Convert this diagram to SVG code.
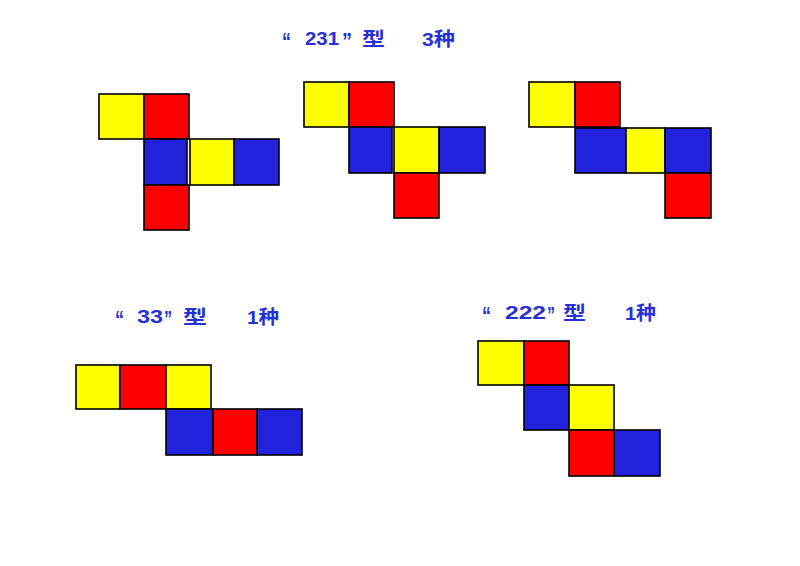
<svg xmlns="http://www.w3.org/2000/svg" width="800" height="566" viewBox="0 0 800 566">
<style>
.y{fill:#ffff00;stroke:#000;stroke-width:1.6}
.r{fill:#ff0000;stroke:#000;stroke-width:1.6}
.b{fill:#2222dc;stroke:#000;stroke-width:1.6}
.t{font-family:"Liberation Sans","Noto Sans CJK SC",sans-serif;font-weight:bold;font-size:19px;fill:#2530d8}
.q{font-family:"Liberation Sans",sans-serif;font-weight:bold;font-size:24px;fill:#2530d8}
.c{font-family:"Noto Sans CJK SC",sans-serif;font-weight:bold;font-size:19px;fill:#2530d8}
</style>
<rect width="800" height="566" fill="#fff"/>
<g id="title-231">
<text class="q" x="282" y="50" textLength="9" lengthAdjust="spacingAndGlyphs">“</text>
<text class="t" x="305" y="45" textLength="34" lengthAdjust="spacingAndGlyphs">231</text>
<text class="q" x="342" y="50" textLength="10" lengthAdjust="spacingAndGlyphs">”</text>
<text class="c" x="362" y="46" textLength="23" lengthAdjust="spacingAndGlyphs">型</text>
<text class="c" x="422" y="46" textLength="33" lengthAdjust="spacingAndGlyphs"><tspan font-family="Liberation Sans">3</tspan>种</text>
</g>
<g id="net-231-a">
<rect class="y" x="99" y="94" width="45" height="45"/>
<rect class="r" x="144" y="94" width="45" height="45"/>
<rect class="b" x="144" y="139" width="43" height="46"/>
<rect class="y" x="190" y="139" width="44" height="46"/>
<rect class="b" x="234" y="139" width="45" height="46"/>
<rect class="r" x="144" y="185" width="45" height="45"/>
</g>
<g id="net-231-b">
<rect class="y" x="304" y="82" width="45" height="45"/>
<rect class="r" x="349" y="82" width="45" height="45"/>
<rect class="b" x="349" y="127" width="43" height="46"/>
<rect class="y" x="394" y="127" width="45" height="46"/>
<rect class="b" x="439" y="127" width="46" height="46"/>
<rect class="r" x="394" y="173" width="45" height="45"/>
</g>
<g id="net-231-c">
<rect class="y" x="529" y="82" width="46" height="45"/>
<rect class="r" x="575" y="82" width="45" height="45"/>
<rect class="b" x="575" y="128" width="51" height="45"/>
<rect class="y" x="626" y="128" width="39" height="45"/>
<rect class="b" x="665" y="128" width="46" height="45"/>
<rect class="r" x="665" y="173" width="46" height="45"/>
</g>
<g id="title-33">
<text class="q" x="115" y="328" textLength="9" lengthAdjust="spacingAndGlyphs">“</text>
<text class="t" x="137" y="323" textLength="26" lengthAdjust="spacingAndGlyphs">33</text>
<text class="q" x="164" y="328" textLength="8" lengthAdjust="spacingAndGlyphs">”</text>
<text class="c" x="183" y="324" textLength="24" lengthAdjust="spacingAndGlyphs">型</text>
<text class="c" x="247" y="324" textLength="32" lengthAdjust="spacingAndGlyphs"><tspan font-family="Liberation Sans">1</tspan>种</text>
</g>
<g id="net-33">
<rect class="y" x="76" y="365" width="44" height="44"/>
<rect class="r" x="120" y="365" width="46" height="44"/>
<rect class="y" x="166" y="365" width="45" height="44"/>
<rect class="b" x="166" y="409" width="47" height="46"/>
<rect class="r" x="213" y="409" width="44" height="46"/>
<rect class="b" x="257" y="409" width="45" height="46"/>
</g>
<g id="title-222">
<text class="q" x="482" y="324" textLength="9" lengthAdjust="spacingAndGlyphs">“</text>
<text class="t" x="505" y="319" textLength="41" lengthAdjust="spacingAndGlyphs">222</text>
<text class="q" x="547" y="324" textLength="8" lengthAdjust="spacingAndGlyphs">”</text>
<text class="c" x="563" y="320" textLength="23" lengthAdjust="spacingAndGlyphs">型</text>
<text class="c" x="625" y="320" textLength="31" lengthAdjust="spacingAndGlyphs"><tspan font-family="Liberation Sans">1</tspan>种</text>
</g>
<g id="net-222">
<rect class="y" x="478" y="341" width="46" height="44"/>
<rect class="r" x="524" y="341" width="45" height="44"/>
<rect class="b" x="524" y="385" width="45" height="45"/>
<rect class="y" x="569" y="385" width="45" height="45"/>
<rect class="r" x="569" y="430" width="45" height="46"/>
<rect class="b" x="614" y="430" width="46" height="46"/>
</g>
</svg>
